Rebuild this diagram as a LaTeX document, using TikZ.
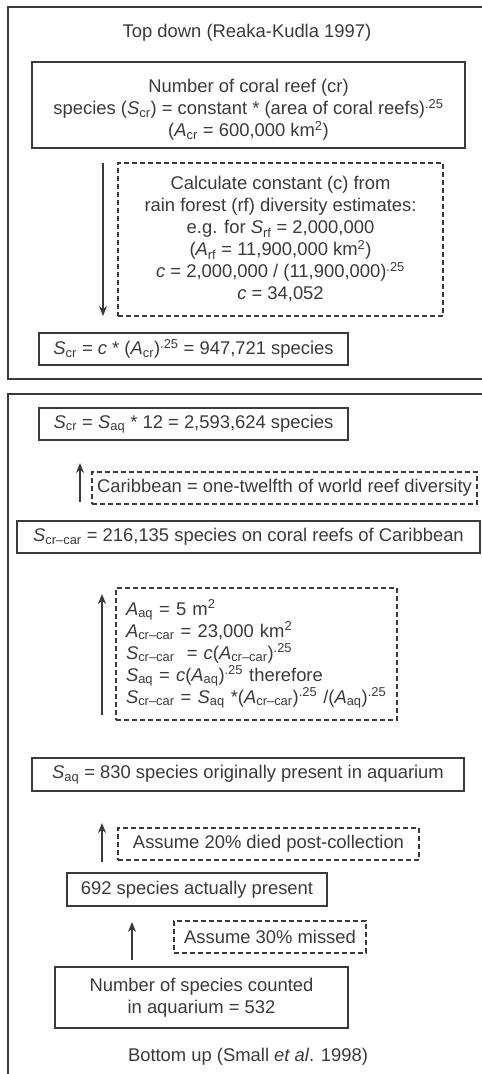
\documentclass[tikz,border=0pt]{standalone}
\usepackage{fontspec}
\setmainfont{Liberation Sans}
\usetikzlibrary{arrows.meta}
\definecolor{ink}{HTML}{3A3A3A}
\newcommand{\myS}[1]{\textit{S}\textsubscript{#1}}
\newcommand{\myA}[1]{\textit{A}\textsubscript{#1}}
\newcommand{\myc}{\textit{c}}
\newcommand{\pw}[1]{\textsuperscript{#1}}
\tikzset{
  every node/.style={text=ink, font=\fontsize{18.4}{22}\selectfont},
  solidbox/.style={draw=ink, line width=1.2pt, align=center, inner sep=0pt},
  dashbox/.style={draw=ink, line width=1.1pt, dash pattern=on 5pt off 3pt, align=center, inner sep=0pt},
  frame/.style={draw=ink, line width=1.2pt},
  uparrow/.style={draw=ink, line width=1.2pt, -{Stealth[length=10pt,width=8pt]}},
  lbl/.style={inner sep=0pt}
}
\begin{document}
\begin{tikzpicture}[x=1pt,y=-1pt]
\useasboundingbox (0,0) rectangle (482,1074);
\fill[white] (0,0) rectangle (482,1074);
% outer frames
\draw[frame] (8,7) rectangle (500,379);
\draw[frame] (8,394) rectangle (500,1100);
% top panel
\node[lbl] (t1) at (247,33) {Top down (Reaka-Kudla 1997)};
\node[solidbox, minimum width=433, minimum height=86] (b1) at (248.5,105) {};
\node[lbl, align=center] (b1t) at (248.5,110)
  {Number of coral reef (cr)\\ species (\myS{cr}) = constant * (area of coral reefs)\pw{.25}\\ (\myA{cr} = 600,000 km\pw{2})};
\node[dashbox, minimum width=325, minimum height=153] (d1) at (280.5,239.5)
  {Calculate constant (c) from\\ rain forest (rf) diversity estimates:\\ e.g. for \myS{rf} = 2,000,000\\ (\myA{rf} = 11,900,000 km\pw{2})\\ \myc{} = 2,000,000 / (11,900,000)\pw{.25}\\ \myc{} = 34,052};
\node[solidbox, minimum width=309, minimum height=32] (b2) at (193.5,349)
  {\myS{cr} = \myc{} * (\myA{cr})\pw{.25} = 947,721 species};
\coordinate (a1s) at (103,163);
\coordinate (a1e) at (103,316);
\draw[uparrow] (a1s) -- (a1e);
% bottom panel
\node[solidbox, minimum width=309, minimum height=32] (b3) at (193.5,424)
  {\myS{cr} = \myS{aq} * 12 = 2,593,624 species};
\node[dashbox, minimum width=385, minimum height=32] (d2) at (284.5,488)
  {Caribbean = one-twelfth of world reef diversity};
\coordinate (a2s) at (80,502);
\coordinate (a2e) at (80,463);
\draw[uparrow] (a2s) -- (a2e);
\node[solidbox, minimum width=463, minimum height=32] (b4) at (248.5,537)
  {\myS{cr--car} = 216,135 species on coral reefs of Caribbean};
\node[dashbox, minimum height=132, text width=261, inner xsep=10pt, align=left] (d3) at (256.5,654)
  {\myA{aq} = 5 m\pw{2}\\
   \myA{cr--car} = 23,000 km\pw{2}\\
   \myS{cr--car}\ \ = \myc(\myA{cr--car})\pw{.25}\\
   \myS{aq} = \myc(\myA{aq})\pw{.25} therefore\\
   \myS{cr--car} = \myS{aq} *(\myA{cr--car})\pw{.25} /(\myA{aq})\pw{.25}};
\coordinate (a3s) at (102,715);
\coordinate (a3e) at (102,594);
\draw[uparrow] (a3s) -- (a3e);
\node[solidbox, minimum width=432, minimum height=33] (b5) at (248,774.5)
  {\myS{aq} = 830 species originally present in aquarium};
\node[dashbox, minimum width=301, minimum height=32] (d4) at (268.5,844)
  {Assume 20\% died post-collection};
\coordinate (a4s) at (102,862);
\coordinate (a4e) at (102,823);
\draw[uparrow] (a4s) -- (a4e);
\node[solidbox, minimum width=260, minimum height=33] (b6) at (197,889.5)
  {692 species actually present};
\node[dashbox, minimum width=192, minimum height=32] (d5) at (270,937)
  {Assume 30\% missed};
\coordinate (a5s) at (132,960);
\coordinate (a5e) at (132,922);
\draw[uparrow] (a5s) -- (a5e);
\node[solidbox, minimum width=293, minimum height=61] (b7) at (201.5,997.5)
  {Number of species counted\\ in aquarium = 532};
\node[lbl] (t2) at (248,1057) {Bottom up (Small \textit{et al}. 1998)};
\end{tikzpicture}
\end{document}
